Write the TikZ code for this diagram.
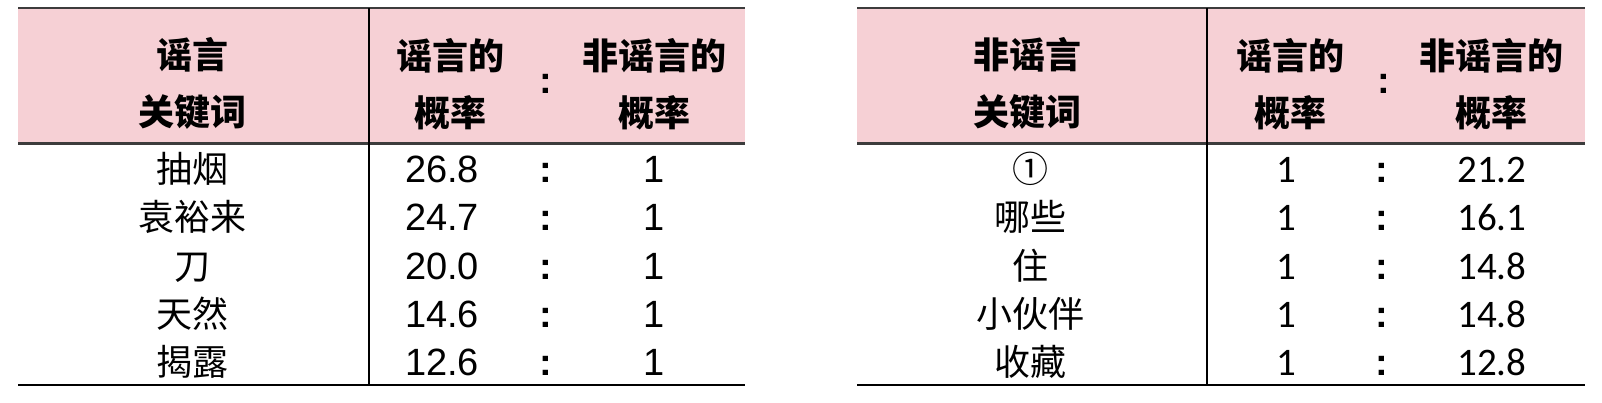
\documentclass[tikz,border=0pt]{standalone}
\usepackage{fontspec}
\setmainfont{Liberation Sans}
\newfontfamily\cjk{Noto Sans CJK SC}
\newfontfamily\numfont{Carlito}
\usetikzlibrary{positioning}
\definecolor{headpink}{RGB}{246,208,213}
\definecolor{rulegray}{RGB}{60,60,60}

\begin{document}
\begin{tikzpicture}[x=1pt,y=-1pt,inner sep=0pt,
 head/.style={align=center,font=\cjk\bfseries\fontsize{36}{57}\selectfont},
 colon/.style={font=\bfseries\fontsize{38}{40}\selectfont},
 word/.style={anchor=base,font=\cjk\fontsize{36}{40}\selectfont},
 num/.style={anchor=base,font=\fontsize{38}{40}\selectfont},
 rnum/.style={anchor=base,font=\numfont\fontsize{39}{40}\selectfont}]

\useasboundingbox (0,0) rectangle (1602,403);

% left table: rumour keywords
\fill[headpink] (18,8) rectangle (745,143);
\draw[rulegray,line width=2.5pt] (18,8) -- (745,8);
\draw[rulegray,line width=3pt] (18,144) -- (745,144);
\draw[line width=2.5pt] (18,385) -- (745,385);
\draw[line width=2.3pt] (369,8) -- (369,385);

\node[head] (lkey) at (192,83) {谣言\\关键词};
\node[head] (lrum) at (450,84) {谣言的\\概率};
\node[colon] (lcol) at (546,84) {:};
\node[head] (lnon) at (654,84) {非谣言的\\概率};

\foreach \w/\a/\b [count=\i] in {抽烟/26.8/1, 袁裕来/24.7/1, 刀/20.0/1, 天然/14.6/1, 揭露/12.6/1} {
  \node[word] (lk\i) at (192,{183+48*(\i-1)}) {\w};
  \node[num] (lr\i) at (442,{183+48*(\i-1)}) {\a};
  \node[colon,anchor=base] (lc\i) at (546,{183+48*(\i-1)}) {:};
  \node[num] (ln\i) at (654,{183+48*(\i-1)}) {\b};
}

% right table: non-rumour keywords
\fill[headpink] (857,8) rectangle (1585,143);
\draw[rulegray,line width=2.5pt] (857,8) -- (1585,8);
\draw[rulegray,line width=3pt] (857,144) -- (1585,144);
\draw[line width=2.5pt] (857,385) -- (1585,385);
\draw[line width=2.3pt] (1207,8) -- (1207,385);

\node[head] (rkey) at (1027,83) {非谣言\\关键词};
\node[head] (rrum) at (1290,84) {谣言的\\概率};
\node[colon] (rcol) at (1384,84) {:};
\node[head] (rnon) at (1491,84) {非谣言的\\概率};

\foreach \w/\a/\b [count=\i] in {①/1/21.2, 哪些/1/16.1, 住/1/14.8, 小伙伴/1/14.8, 收藏/1/12.8} {
  \node[word] (rk\i) at (1030,{183+48*(\i-1)}) {\w};
  \node[rnum] (rr\i) at (1286,{183+48*(\i-1)}) {\a};
  \node[colon,anchor=base] (rc\i) at (1382,{183+48*(\i-1)}) {:};
  \node[rnum] (rn\i) at (1492,{183+48*(\i-1)}) {\b};
}

\end{tikzpicture}
\end{document}
